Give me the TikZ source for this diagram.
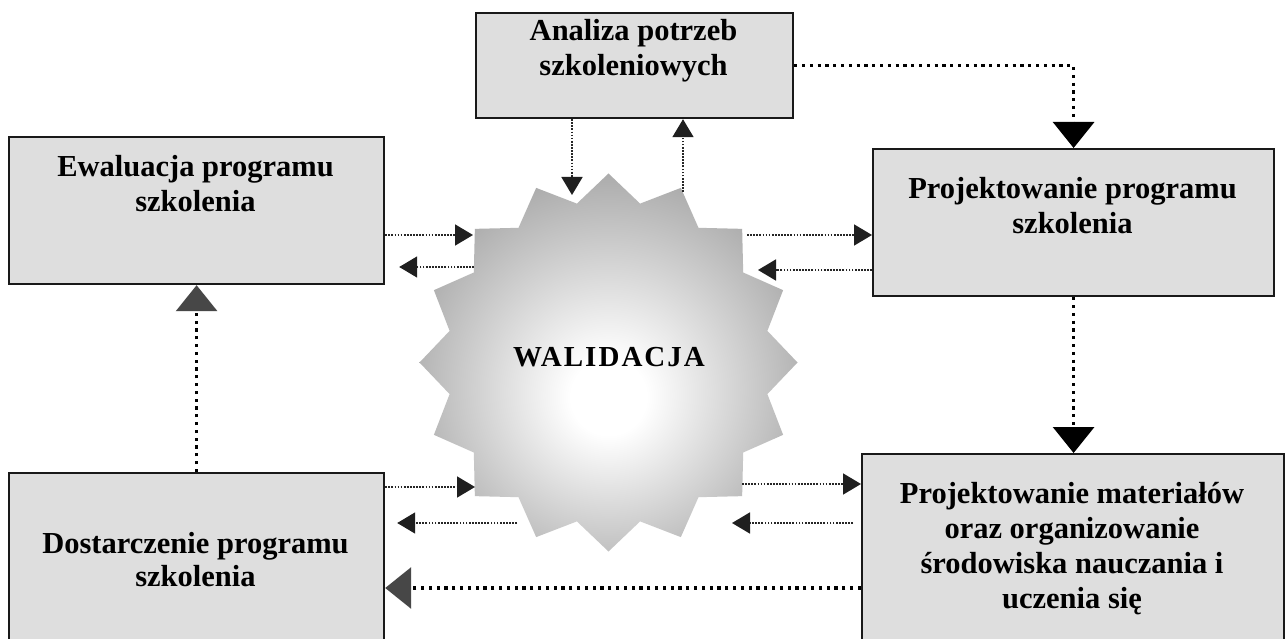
\documentclass[tikz,border=0pt]{standalone}
\usepackage{fontspec}
\setmainfont{Liberation Serif}
\usetikzlibrary{arrows.meta}
\pgfdeclareradialshading{starshade}{\pgfpoint{0bp}{-5bp}}{color(0bp)=(white); color(5bp)=(white); color(30bp)=(black!36); color(60bp)=(black!36)}
\tikzset{
  box/.style={draw=black!90, line width=2.2pt, fill=black!13, inner sep=0pt, anchor=north west},
  boxtext/.style={inner sep=0pt, anchor=north, align=center, font=\bfseries\fontsize{30.5}{35}\selectfont},
  thinline/.style={draw=black!85, line width=1.7pt, dash pattern=on 1.7pt off 1.4pt},
  thickline/.style={draw=black, line width=3.2pt, dash pattern=on 3.2pt off 4.6pt},
  smalltip/.style={-{Triangle[length=18pt,width=21pt,color=black!88]}},
  bigtip/.style={-{Triangle[length=26pt,width=41pt,color=black]}},
  graytip/.style={-{Triangle[length=26pt,width=41pt,color=black!72]}},
}
\begin{document}
\begin{tikzpicture}[x=1pt,y=-1pt]
\clip (0,0) rectangle (1288,639);
\fill[white] (0,0) rectangle (1288,639);

% star
\coordinate (c) at (608.5,362.5);
\shade[shading=starshade] ([shift={(c)}]90:189)
  \foreach \k in {1,...,15} { -- ([shift={(c)}]{90+\k*22.5-11.25}:162) -- ([shift={(c)}]{90+\k*22.5}:189) }
  -- ([shift={(c)}]78.75:162) -- cycle;
\node[inner sep=0pt, font=\bfseries\fontsize{29}{32}\selectfont\addfontfeature{LetterSpace=7}] (val) at (609,357) {WALIDACJA};

% boxes
\node[box, minimum width=317pt, minimum height=105pt] (ana) at (475,12) {};
\node[box, minimum width=375pt, minimum height=147pt] (ewal) at (8,136) {};
\node[box, minimum width=401pt, minimum height=147pt] (proj) at (872,148) {};
\node[box, minimum width=375pt, minimum height=190pt] (dost) at (8,472) {};
\node[box, minimum width=422pt, minimum height=210pt] (mat) at (861,453) {};

\node[boxtext] (ana-t) at (633.5,19) {Analiza potrzeb\\szkoleniowych};
\node[boxtext] (ewal-t) at (195.5,155) {Ewaluacja programu\\szkolenia};
\node[boxtext] (proj-t) at (1072.5,177) {Projektowanie programu\\szkolenia};
\node[boxtext, font=\bfseries\fontsize{30.5}{33}\selectfont] (dost-t) at (195.5,532) {Dostarczenie programu\\szkolenia};
\node[boxtext] (mat-t) at (1072,482) {Projektowanie materiałów\\oraz organizowanie\\środowiska nauczania i\\uczenia się};

% star-side coordinates
\coordinate (s1) at (572,195);
\coordinate (s2) at (683,192);
\coordinate (s3) at (473,235);
\coordinate (s4) at (474,267);
\coordinate (s5) at (747,235);
\coordinate (s6) at (758,270);
\coordinate (s7) at (475,487);
\coordinate (s8) at (517,523);
\coordinate (s9) at (742,484);
\coordinate (s10) at (732,523);

% connectors
\draw[thickline, bigtip] (ana.east) -| (proj.north);
\draw[thinline, smalltip] (ana.south -| s1) -- (s1);
\draw[thinline, smalltip] (s2) -- (s2 |- ana.south);
\draw[thinline, smalltip] (ewal.east |- s3) -- (s3);
\draw[thinline, smalltip] (s4) -- ([xshift=14pt]ewal.east |- s4);
\draw[thinline, smalltip] (s5) -- (proj.west |- s5);
\draw[thinline, smalltip] (proj.west |- s6) -- (s6);
\draw[thickline, bigtip] (proj.south) -- (proj.south |- mat.north);
\draw[thickline, graytip] (dost.north) -- (ewal.south);
\draw[thinline, smalltip] (dost.east |- s7) -- (s7);
\draw[thinline, smalltip] (s8) -- ([xshift=12pt]dost.east |- s8);
\draw[thinline, smalltip] (s9) -- (mat.west |- s9);
\draw[thinline, smalltip] ([xshift=-8pt]mat.west |- s10) -- (s10);
\draw[thickline, graytip] (mat.west |- 0,588) -- (dost.east |- 0,588);
\end{tikzpicture}
\end{document}
